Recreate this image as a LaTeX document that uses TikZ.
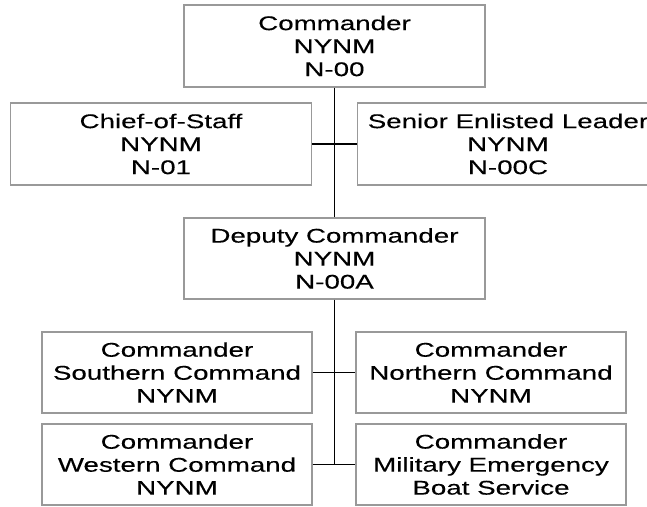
\documentclass[tikz,border=0pt]{standalone}
\usepackage{fontspec}
\setmainfont{Liberation Sans}[FakeStretch=1.4,FakeBold=0.25]
\usepackage{tikz}

\tikzset{
  orgbox/.style={draw=black!40, line width=1.4pt, inner sep=0pt, align=center,
    minimum width=301pt, minimum height=82pt,
    font=\fontsize{19.8}{23}\selectfont},
  cmdbox/.style={orgbox, minimum width=270pt, minimum height=81pt},
  link/.style={draw=black, line width=1.5pt}
}

\begin{document}
\begin{tikzpicture}[x=1pt,y=-1pt]
  \useasboundingbox (0,0) rectangle (647,506);
  \node[orgbox] (cmd) at (334.5,46) {Commander\\NYNM\\N-00};
  \node[orgbox] (cos) at (161,144) {Chief-of-Staff\\NYNM\\N-01};
  \node[orgbox] (sel) at (508,144) {Senior Enlisted Leader\\NYNM\\N-00C};
  \node[orgbox, minimum height=81pt] (dep) at (334.5,258.5) {Deputy Commander\\NYNM\\N-00A};
  \node[cmdbox] (south) at (177,372.5) {Commander\\Southern Command\\NYNM};
  \node[cmdbox] (north) at (491,372.5) {Commander\\Northern Command\\NYNM};
  \node[cmdbox] (west) at (177,464.5) {Commander\\Western Command\\NYNM};
  \node[cmdbox] (boat) at (491,464.5) {Commander\\Military Emergency\\Boat Service};

  \draw[link] (cmd.south) -- (dep.north);
  \draw[link] (cos.east) -- (sel.west);
  \draw[link] (dep.south) -- (dep.south |- west.east);
  \draw[link] (south.east) -- (north.west);
  \draw[link] (west.east) -- (boat.west);
\end{tikzpicture}
\end{document}
